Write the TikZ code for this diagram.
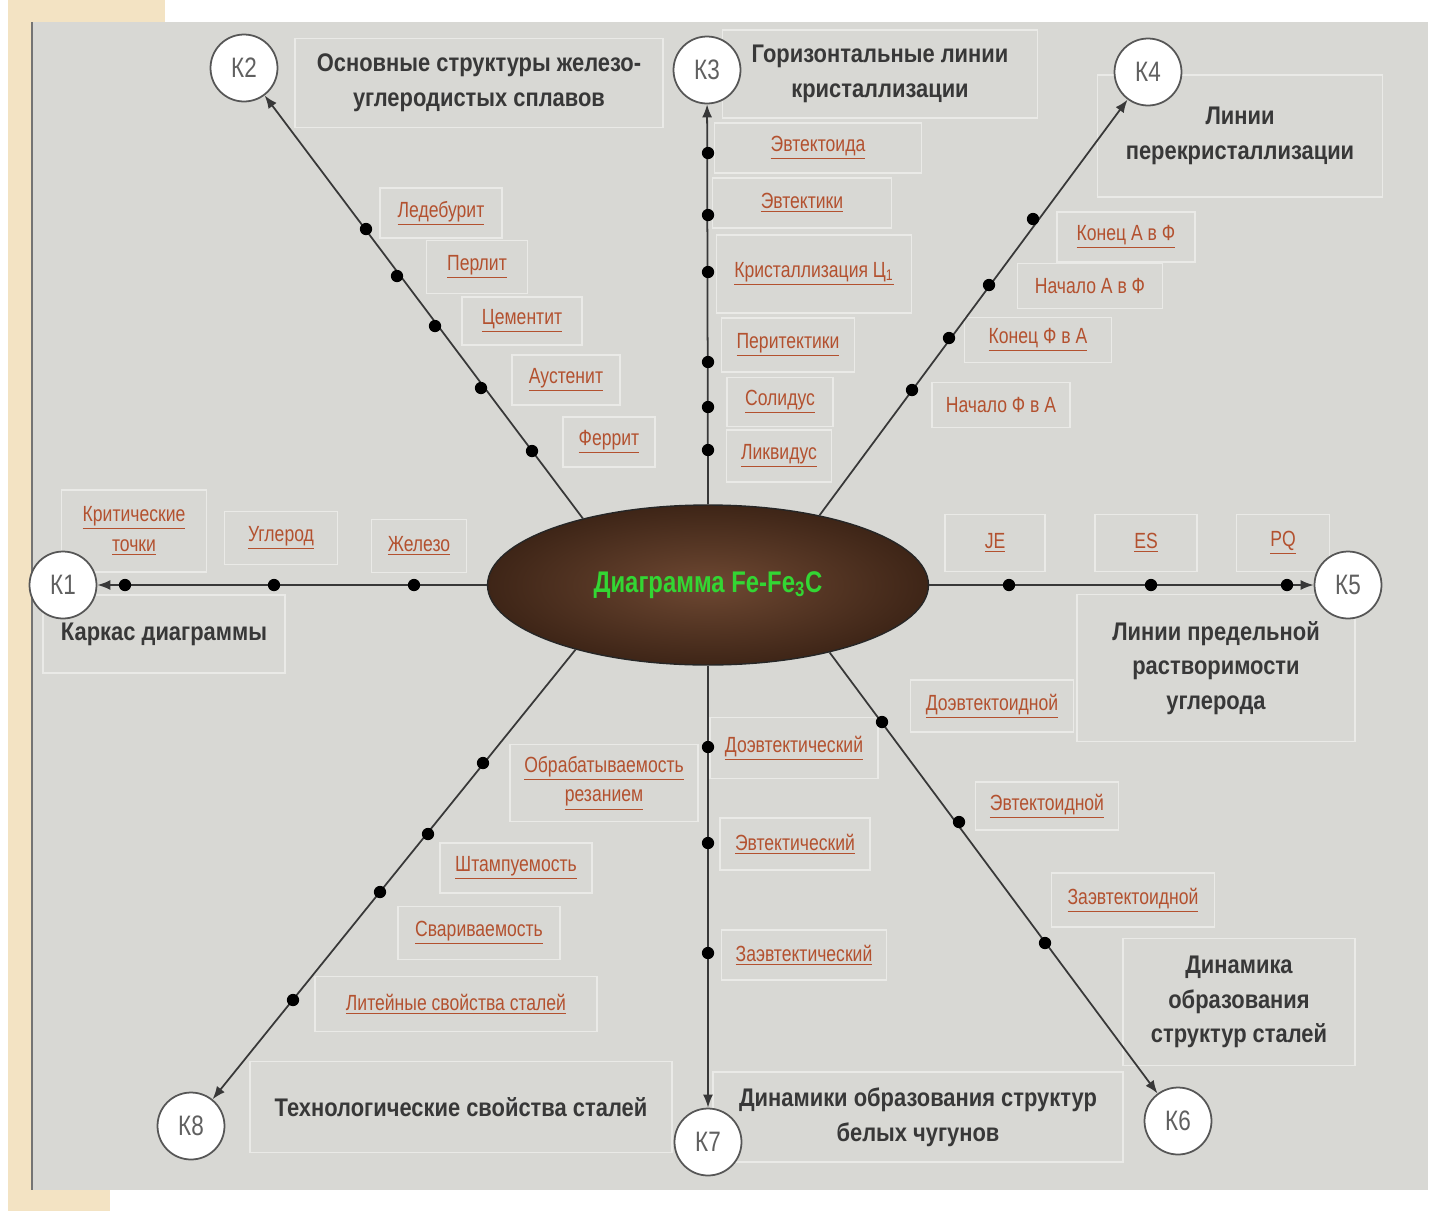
\documentclass[tikz,border=0pt]{standalone}
\usepackage{fontspec}
\setmainfont[FakeStretch=0.86]{Liberation Sans}
\newfontfamily\lblfont[FakeStretch=0.8]{Liberation Sans}
\usetikzlibrary{arrows.meta,shapes.geometric}
\definecolor{Panel}{HTML}{D8D8D4}
\definecolor{Sand}{HTML}{F3E3C3}
\definecolor{Ink}{HTML}{383838}
\definecolor{Brick}{HTML}{B3512F}
\definecolor{Leaf}{HTML}{33D633}
\definecolor{Frame}{HTML}{EAEAE7}
\definecolor{BarkIn}{HTML}{6E4832}
\definecolor{BarkOut}{HTML}{3E2517}

\begin{document}
\begin{tikzpicture}[x=0.02cm,y=-0.02cm,
  kc/.style={circle,draw=Ink!85,line width=1pt,fill=white,minimum size=1.34cm,inner sep=0pt,
    font=\lblfont\fontsize{16}{16}\selectfont,text=Ink!80},
  head/.style={draw=Frame,line width=0.8pt,align=center,inner sep=0pt,
    font=\fontsize{14.5}{19.8}\selectfont\bfseries,text=Ink},
  lbl/.style={draw=Frame,line width=0.8pt,align=center,inner sep=0pt,minimum height=1cm,
    font=\lblfont\fontsize{12.5}{17}\selectfont,text=Brick},
  spoke/.style={-{Latex[length=2.6mm,width=2mm]},line width=1pt,draw=Ink}]
\useasboundingbox (0,0) rectangle (1431,1211);
% background
\fill[white] (0,0) rectangle (1431,1211);
\fill[Sand] (8,0) rectangle (32,1211);
\fill[Sand] (8,0) rectangle (165,22);
\fill[Sand] (8,1190) rectangle (110,1211);
\fill[Panel] (32,22) rectangle (1428,1190);
\draw[Ink!70,line width=0.6pt] (32,22) -- (32,1190);

% headings
\node[head,minimum width=4.84cm,minimum height=1.56cm](karkas) at (164,634){Каркас диаграммы};
\node[head,minimum width=7.36cm,minimum height=1.78cm](struct) at (479,83){Основные структуры железо-\\углеродистых сплавов};
\node[head,minimum width=6.3cm,minimum height=1.76cm](horiz) at (880,74){Горизонтальные линии\\кристаллизации};
\node[head,minimum width=5.7cm,minimum height=2.44cm](perekr) at (1240,136){Линии\\перекристаллизации};
\node[head,minimum width=5.56cm,minimum height=2.94cm](rastv) at (1216,668){Линии предельной\\растворимости\\углерода};
\node[head,minimum width=4.64cm,minimum height=2.54cm](dinst) at (1239,1002){Динамика\\образования\\структур сталей};
\node[head,minimum width=8.2cm,minimum height=1.8cm](dinchug) at (918,1117){Динамики образования структур\\белых чугунов};
\node[head,minimum width=8.44cm,minimum height=1.82cm](tehn) at (461,1107){Технологические свойства сталей};

% labels K1
\node[lbl,minimum width=2.9cm,minimum height=1.64cm](krit) at (134,531){\underline{Критические}\\\underline{точки}};
\node[lbl,minimum width=2.26cm,minimum height=1.06cm](uglerod) at (281,538){\underline{Углерод}};
\node[lbl,minimum width=1.9cm,minimum height=1.06cm](zhelezo) at (419,546){\underline{Железо}};
% labels K2
\node[lbl,minimum width=2.44cm](ledeb) at (441,213){\underline{Ледебурит}};
\node[lbl,minimum width=2.02cm,minimum height=1.06cm](perlit) at (477,267){\underline{Перлит}};
\node[lbl,minimum width=2.4cm,minimum height=0.96cm](cement) at (522,321){\underline{Цементит}};
\node[lbl,minimum width=2.16cm](austen) at (566,380){\underline{Аустенит}};
\node[lbl,minimum width=1.84cm](ferrit) at (609,442){\underline{Феррит}};
% labels K3
\node[lbl,minimum width=4.14cm](evtoid) at (818,148){\underline{Эвтектоида}};
\node[lbl,minimum width=3.58cm](evtek) at (802,203){\underline{Эвтектики}};
\node[lbl,minimum width=3.9cm,minimum height=1.56cm](kristc) at (814,274){\underline{Кристаллизация Ц\textsubscript{1}}};
\node[lbl,minimum width=2.66cm,minimum height=1.08cm](perit) at (788,345){\underline{Перитектики}};
\node[lbl,minimum width=2.12cm,minimum height=0.98cm](solid) at (780,402){\underline{Солидус}};
\node[lbl,minimum width=2.1cm,minimum height=1.04cm](likvid) at (779,456){\underline{Ликвидус}};
% labels K4
\node[lbl,minimum width=2.76cm](konaf) at (1126,237){\underline{Конец А в Ф}};
\node[lbl,minimum width=2.9cm,minimum height=0.9cm](nachaf) at (1090,286){Начало А в Ф};
\node[lbl,minimum width=2.94cm,minimum height=0.9cm](konfa) at (1038,340){\underline{Конец Ф в А}};
\node[lbl,minimum width=2.76cm,minimum height=0.9cm](nachfa) at (1001,405){Начало Ф в А};
% labels K5
\node[lbl,minimum width=2cm,minimum height=1.14cm](je) at (995,543){\underline{JE}};
\node[lbl,minimum width=2.04cm,minimum height=1.14cm](es) at (1146,543){\underline{ES}};
\node[lbl,minimum width=1.86cm,minimum height=1.14cm](pq) at (1283,543){\underline{PQ}};
% labels K6
\node[lbl,minimum width=3.26cm,minimum height=1.04cm](doevtoid) at (992,706){\underline{Доэвтектоидной}};
\node[lbl,minimum width=2.86cm,minimum height=0.96cm](evtoidn) at (1047,806){\underline{Эвтектоидной}};
\node[lbl,minimum width=3.26cm,minimum height=1.08cm](zaevtoid) at (1133,900){\underline{Заэвтектоидной}};
% labels K7
\node[lbl,minimum width=3.36cm,minimum height=1.22cm](doevtek) at (794,748){\underline{Доэвтектический}};
\node[lbl,minimum width=3cm,minimum height=1.04cm](evtekch) at (795,844){\underline{Эвтектический}};
\node[lbl,minimum width=3.3cm](zaevtek) at (804,955){\underline{Заэвтектический}};
% labels K8
\node[lbl,minimum width=3.76cm,minimum height=1.54cm](obrab) at (604,783){\underline{Обрабатываемость}\\\underline{резанием}};
\node[lbl,minimum width=3.04cm](shtamp) at (516,868){\underline{Штампуемость}};
\node[lbl,minimum width=3.24cm,minimum height=1.06cm](svar) at (479,933){\underline{Свариваемость}};
\node[lbl,minimum width=5.64cm,minimum height=1.1cm](liteyn) at (456,1004){\underline{Литейные свойства сталей}};

% centre
\node[ellipse,draw=black!85,line width=0.8pt,inner color=BarkIn,outer color=BarkOut,
  minimum width=8.82cm,minimum height=3.2cm,inner sep=0pt,text=Leaf,
  font=\lblfont\fontsize{17}{17}\selectfont\bfseries](core) at (708,585){Диаграмма Fe-Fe\textsubscript{3}C};

% key circles
\node[kc](k1) at (63,585){К1};
\node[kc](k2) at (244,68){К2};
\node[kc](k3) at (707,70){К3};
\node[kc](k4) at (1148,72){К4};
\node[kc](k5) at (1348,585){К5};
\node[kc](k6) at (1178,1121){К6};
\node[kc](k7) at (708,1142){К7};
\node[kc](k8) at (191,1126){К8};

\draw[spoke](core.west)--(k1);\draw[spoke](core.152)--(k2);
\draw[spoke](core.north)--(k3);\draw[spoke](core.32)--(k4);
\draw[spoke](core.east)--(k5);\draw[spoke](core.331)--(k6);
\draw[spoke](core.south)--(k7);\draw[spoke](core.206)--(k8);

% dots on the spokes
\foreach \p in {(125,585),(274,585),(414,585),
  (366,229),(397,276),(435,326),(481,388),(532,451),
  (708,153),(708,215),(708,272),(708,362),(708,407),(708,450),
  (1033,219),(989,285),(949,338),(912,390),
  (1009,585),(1151,585),(1287,585),
  (882,722),(959,822),(1045,943),
  (708,747),(708,843),(708,953),
  (483,763),(428,834),(380,892),(293,1000)}
  \fill[black] \p circle[radius=3.5pt];
\end{tikzpicture}
\end{document}
